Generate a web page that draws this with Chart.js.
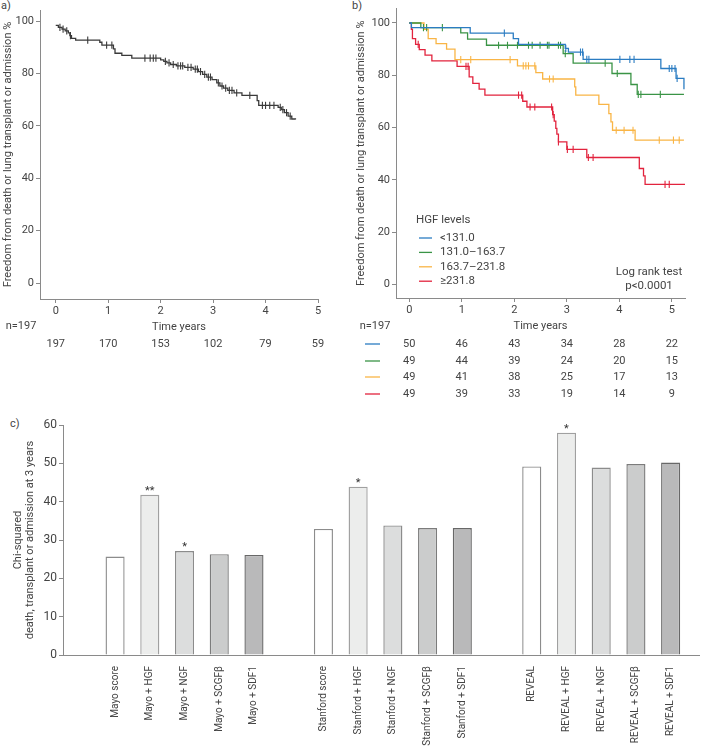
<!DOCTYPE html>
<html>
<head>
<meta charset="utf-8">
<script src="https://cdn.jsdelivr.net/npm/chart.js@4.4.1/dist/chart.umd.min.js"></script>
<style>
  html, body { margin: 0; padding: 0; background: #fff; }
  body { width: 704px; height: 747px; position: relative; overflow: hidden; font-family: Roboto, "DejaVu Sans", sans-serif; color: #444; }
  .panel { position: absolute; }
  .tag { position: absolute; font-size: 11px; color: #444; line-height: 12px; }
</style>
</head>
<body>
<div class="tag" style="left:1px;top:0px">a)</div>
<div class="tag" style="left:352px;top:0px">b)</div>
<div class="tag" style="left:10px;top:418px">c)</div>
<canvas class="panel" id="chartA" width="352" height="400" style="left:0;top:0"></canvas>
<canvas class="panel" id="chartB" width="352" height="400" style="left:352px;top:0"></canvas>
<canvas class="panel" id="chartC" width="704" height="342" style="left:0;top:405px"></canvas>
<script>
// ============================================
// DATA
// ============================================
const yTicksKM = [0, 20, 40, 60, 80, 100];
const riskTimes = [0, 1, 2, 3, 4, 5];

// panel a - whole cohort
const aTimes = [0, 0.05, 0.12, 0.18, 0.24, 0.27, 0.30, 0.38, 0.84, 0.88, 1.10, 1.13, 1.26, 1.45, 2.00, 2.06, 2.12, 2.19, 2.30, 2.46, 2.62, 2.72, 2.80, 2.88, 2.98, 3.07, 3.13, 3.20, 3.28, 3.40, 3.55, 3.84, 3.87, 4.24, 4.30, 4.36, 4.43, 4.50, 4.57];
const aSurv = [98.3, 97.6, 96.9, 96.2, 95.5, 94.4, 93.4, 92.7, 91.9, 90.8, 89.4, 87.7, 86.9, 85.8, 85.2, 84.6, 84.0, 83.4, 82.9, 82.3, 81.6, 80.7, 79.6, 78.6, 77.6, 76.4, 75.2, 74.4, 73.5, 72.6, 71.6, 69.6, 67.8, 67.0, 66.2, 65.0, 63.7, 62.6, 62.4];
const aCensor = [0.08, 0.14, 0.21, 0.28, 0.61, 0.97, 1.07, 1.70, 1.80, 1.86, 1.91, 2.09, 2.16, 2.24, 2.33, 2.38, 2.42, 2.52, 2.58, 2.66, 2.70, 2.76, 2.84, 2.91, 2.95, 3.10, 3.17, 3.24, 3.31, 3.36, 3.45, 3.70, 3.94, 4.00, 4.08, 4.16, 4.28, 4.33, 4.40, 4.47];
const aRisk = [197, 170, 153, 102, 79, 59];

// panel b - HGF quartiles
const hgfLevels = ['<131.0', '131.0\u2013163.7', '163.7\u2013231.8', '\u2265231.8'];
const hgfColors = ['#2b7cc2', '#3a9446', '#f9b546', '#e2233d'];

const q1Times = [0, 0.04, 1.16, 1.98, 2.08, 2.97, 3.03, 3.31, 4.79, 5.08, 5.23];
const q1Surv = [100, 98.2, 96.1, 94.0, 91.8, 90.3, 88.9, 86.1, 82.6, 78.8, 74.7];
const q1Censor = [1.81, 2.98, 3.26, 3.30, 3.38, 3.42, 4.01, 4.20, 4.28, 4.95, 5.00, 5.06, 5.10];

const q2Times = [0, 0.22, 0.98, 1.11, 1.47, 2.93, 3.12, 3.86, 4.22, 4.34, 5.23];
const q2Surv = [100, 98.2, 96.2, 93.8, 91.5, 88.3, 84.7, 80.7, 76.5, 72.7, 72.7];
const q2Censor = [0.27, 0.33, 0.63, 1.70, 1.87, 2.06, 2.27, 2.34, 2.49, 2.63, 2.66, 2.84, 2.88, 2.97, 3.73, 3.96, 4.36, 4.41, 4.78];

const q3Times = [0, 0.28, 0.36, 0.51, 0.71, 0.87, 2.06, 2.41, 2.54, 3.15, 3.17, 3.61, 3.80, 3.84, 3.87, 4.30, 5.23];
const q3Surv = [100, 97.6, 94.0, 92.1, 90.0, 86.0, 83.6, 81.0, 78.6, 75.6, 72.4, 68.9, 65.4, 62.2, 59.0, 55.2, 55.2];
const q3Censor = [0.98, 1.17, 1.92, 2.17, 2.22, 2.27, 2.39, 2.67, 2.74, 3.94, 4.09, 4.26, 4.76, 5.03, 5.14];

const q4Times = [0, 0.04, 0.06, 0.12, 0.19, 0.30, 0.43, 0.91, 1.14, 1.21, 1.33, 1.44, 2.16, 2.24, 2.73, 2.76, 2.79, 2.81, 2.84, 3.00, 3.38, 4.38, 4.46, 4.49, 5.25];
const q4Surv = [100, 97.6, 94.0, 91.8, 89.8, 87.7, 85.5, 83.4, 79.4, 76.9, 74.7, 72.4, 70.1, 67.9, 65.0, 62.5, 59.7, 57.5, 54.6, 51.7, 48.6, 44.4, 41.6, 38.3, 38.3];
const q4Censor = [0.17, 1.08, 1.12, 2.08, 2.14, 2.30, 2.39, 2.71, 2.74, 2.84, 3.01, 3.12, 3.41, 3.50, 4.87, 4.95];

const q1Risk = [50, 46, 43, 34, 28, 22];
const q2Risk = [49, 44, 39, 24, 20, 15];
const q3Risk = [49, 41, 38, 25, 17, 13];
const q4Risk = [49, 39, 33, 19, 14, 9];

// panel c - chi-squared of models
const models = ['', 'Mayo score', 'Mayo + HGF', 'Mayo + NGF', 'Mayo + SCGF\u03b2', 'Mayo + SDF1',
                '', 'Stanford score', 'Stanford + HGF', 'Stanford + NGF', 'Stanford + SCGF\u03b2', 'Stanford + SDF1',
                '', 'REVEAL', 'REVEAL + HGF', 'REVEAL + NGF', 'REVEAL + SCGF\u03b2', 'REVEAL + SDF1'];
const chiSquared = [null, 25.7, 41.8, 27.1, 26.3, 26.1,
                    null, 32.9, 43.9, 33.8, 33.1, 33.1,
                    null, 49.2, 58.0, 48.9, 49.8, 50.2];
const stars = ['', '', '**', '*', '', '', '', '', '*', '', '', '', '', '', '*', '', '', ''];
const chiTicks = [0, 10, 20, 30, 40, 50, 60];

// ============================================
// STYLE
// ============================================
const FONT = 'Roboto, "DejaVu Sans", sans-serif';
const TEXT = '#444';
const AXIS = '#8a8a8a';
const barFills = ['#ffffff', '#ecedec', '#dcdddd', '#cbcccc', '#b9b9ba'];
const barBorders = ['#8c8c8c', '#a0a0a0', '#8c8c8c', '#7c7c7c', '#686868'];

Chart.defaults.font.family = FONT;
Chart.defaults.color = TEXT;

// ============================================
// HELPERS
// ============================================
function survAt(times, surv, t) {
    let v = surv[0];
    for (let i = 0; i < times.length; i++) {
        if (times[i] <= t) v = surv[i];
    }
    return v;
}

function kmDatasets(times, surv, censor, color) {
    return [{
        type: 'line',
        data: times.map((t, i) => ({ x: t, y: surv[i] })),
        borderColor: color,
        borderWidth: 1.3,
        stepped: 'before',
        pointRadius: 0,
        fill: false
    }, {
        type: 'scatter',
        data: censor.map(t => ({ x: t, y: survAt(times, surv, t) })),
        borderColor: color,
        pointStyle: 'line',
        pointRotation: 90,
        pointRadius: 3.6,
        pointBorderWidth: 1.1,
        showLine: false
    }];
}

// risk table under the KM plots, aligned to the x scale
const riskPlugin = {
    id: 'riskTable',
    afterDraw(chart, args, o) {
        if (!o.rows) return;
        const ctx = chart.ctx;
        const xs = chart.scales.x;
        ctx.save();
        ctx.font = `11px ${FONT}`;
        ctx.fillStyle = TEXT;
        ctx.textBaseline = 'middle';
        ctx.textAlign = 'center';
        ctx.fillText(o.nLabel, o.nX, o.nY);
        o.rows.forEach((row, r) => {
            const y = o.rowY[r];
            if (o.colors) {
                ctx.strokeStyle = o.colors[r];
                ctx.lineWidth = 1.3;
                ctx.beginPath();
                ctx.moveTo(o.markX[0], y);
                ctx.lineTo(o.markX[1], y);
                ctx.stroke();
            }
            row.forEach((n, i) => {
                ctx.fillText(String(n), xs.getPixelForValue(o.times[i]), y);
            });
        });
        ctx.restore();
    }
};

// legend + log rank text for panel b
const hgfLegendPlugin = {
    id: 'hgfLegend',
    afterDraw(chart, args, o) {
        if (!o.labels) return;
        const ctx = chart.ctx;
        ctx.save();
        ctx.font = `11.5px ${FONT}`;
        ctx.fillStyle = TEXT;
        ctx.textBaseline = 'middle';
        ctx.textAlign = 'left';
        ctx.fillText(o.title, o.x, o.titleY);
        o.labels.forEach((lab, i) => {
            const y = o.y0 + i * o.step;
            ctx.strokeStyle = o.colors[i];
            ctx.lineWidth = 1.3;
            ctx.beginPath();
            ctx.moveTo(o.x + 3, y);
            ctx.lineTo(o.x + 16, y);
            ctx.stroke();
            ctx.fillText(lab, o.x + 24, y);
        });
        ctx.textAlign = 'center';
        ctx.fillText('Log rank test', o.noteX, o.noteY);
        ctx.fillText('p<0.0001', o.noteX, o.noteY + 14);
        ctx.restore();
    }
};

// significance stars above bars, and the x axis line running on to the edge
const starPlugin = {
    id: 'stars',
    afterDatasetsDraw(chart, args, o) {
        if (!o.marks) return;
        const ctx = chart.ctx;
        const meta = chart.getDatasetMeta(0);
        const area = chart.chartArea;
        ctx.save();
        ctx.strokeStyle = AXIS;
        ctx.lineWidth = 1;
        ctx.beginPath();
        ctx.moveTo(area.right, area.bottom + 0.5);
        ctx.lineTo(area.right + o.axisRun, area.bottom + 0.5);
        ctx.stroke();
        ctx.font = `11px ${FONT}`;
        ctx.fillStyle = '#333';
        ctx.textAlign = 'center';
        ctx.textBaseline = 'alphabetic';
        meta.data.forEach((bar, i) => {
            if (o.marks[i]) ctx.fillText(o.marks[i], bar.x, bar.y - 1);
        });
        ctx.restore();
    }
};

function kmOptions(cfg) {
    return {
        responsive: false,
        animation: false,
        events: [],
        layout: { padding: cfg.padding },
        plugins: {
            legend: { display: false },
            tooltip: { enabled: false },
            riskTable: cfg.risk,
            hgfLegend: cfg.legend || {}
        },
        scales: {
            x: {
                type: 'linear',
                min: cfg.xMin,
                max: cfg.xMax,
                afterBuildTicks: ax => { ax.ticks = riskTimes.map(v => ({ value: v })); },
                afterFit: ax => { ax.height = 36; },
                grid: { drawOnChartArea: false, tickLength: 4, color: AXIS },
                border: { color: AXIS },
                ticks: { font: { size: 11 }, color: TEXT, padding: 2, maxRotation: 0 },
                title: { display: true, text: 'Time years', font: { size: 11 }, color: TEXT, padding: { top: 0, bottom: 1 } }
            },
            y: {
                min: cfg.yMin,
                max: cfg.yMax,
                afterBuildTicks: ax => { ax.ticks = yTicksKM.map(v => ({ value: v })); },
                afterFit: ax => { ax.width = cfg.yWidth; },
                grid: { drawOnChartArea: false, tickLength: 4, color: AXIS },
                border: { color: AXIS },
                ticks: { font: { size: 11 }, color: TEXT, padding: 2 },
                title: {
                    display: true,
                    text: 'Freedom from death or lung transplant or admission %',
                    font: { size: 11 },
                    color: TEXT,
                    padding: { top: cfg.titlePad, bottom: 0 }
                }
            }
        }
    };
}

// ============================================
// PANEL A
// ============================================
new Chart(document.getElementById('chartA'), {
    type: 'line',
    data: { datasets: kmDatasets(aTimes, aSurv, aCensor, '#3a3a3a') },
    options: kmOptions({
        padding: { top: 10, right: 34, bottom: 65, left: 0 },
        xMin: -0.3, xMax: 5,
        yMin: -6.1, yMax: 104.2,
        yWidth: 40, titlePad: 1.5,
        risk: { nLabel: 'n=197', nX: 21, nY: 326, rows: [aRisk], rowY: [344], times: riskTimes }
    }),
    plugins: [riskPlugin]
});

// ============================================
// PANEL B
// ============================================
new Chart(document.getElementById('chartB'), {
    type: 'line',
    data: {
        datasets: [
            ...kmDatasets(q1Times, q1Surv, q1Censor, hgfColors[0]),
            ...kmDatasets(q2Times, q2Surv, q2Censor, hgfColors[1]),
            ...kmDatasets(q3Times, q3Surv, q3Censor, hgfColors[2]),
            ...kmDatasets(q4Times, q4Surv, q4Censor, hgfColors[3])
        ]
    },
    options: kmOptions({
        padding: { top: 8, right: 19, bottom: 66, left: 0 },
        xMin: -0.253, xMax: 5.25,
        yMin: -5.1, yMax: 105.5,
        yWidth: 44, titlePad: 2.5,
        risk: {
            nLabel: 'n=197', nX: 23, nY: 326,
            rows: [q1Risk, q2Risk, q3Risk, q4Risk],
            rowY: [344, 361, 377, 394],
            times: riskTimes,
            colors: hgfColors,
            markX: [13, 28]
        },
        legend: {
            title: 'HGF levels', labels: hgfLevels, colors: hgfColors,
            x: 64, titleY: 220, y0: 238, step: 14.4,
            noteX: 297, noteY: 272
        }
    }),
    plugins: [riskPlugin, hgfLegendPlugin]
});

// ============================================
// PANEL C
// ============================================
const fills = models.map((m, i) => barFills[(i % 6) - 1] || '#fff');
const borders = models.map((m, i) => barBorders[(i % 6) - 1] || AXIS);

new Chart(document.getElementById('chartC'), {
    type: 'bar',
    data: {
        labels: models,
        datasets: [{
            data: chiSquared,
            backgroundColor: fills,
            borderColor: borders,
            borderWidth: 1.4,
            barPercentage: 0.55,
            categoryPercentage: 1
        }]
    },
    options: {
        responsive: false,
        animation: false,
        events: [],
        layout: { padding: { top: 20, right: 16, bottom: 0, left: 0 } },
        plugins: {
            legend: { display: false },
            tooltip: { enabled: false },
            stars: { marks: stars, axisRun: 12 }
        },
        scales: {
            x: {
                afterFit: ax => { ax.height = 92; },
                grid: { display: false },
                border: { color: AXIS },
                ticks: { autoSkip: false, maxRotation: 90, minRotation: 90, font: { size: 10 }, color: TEXT, padding: 3 }
            },
            y: {
                min: 0,
                max: 60,
                afterBuildTicks: ax => { ax.ticks = chiTicks.map(v => ({ value: v })); },
                afterFit: ax => { ax.width = 63; },
                grid: { drawOnChartArea: false, tickLength: 4, color: AXIS },
                border: { color: AXIS },
                ticks: { font: { size: 12 }, color: TEXT, padding: 2 },
                title: {
                    display: true,
                    text: ['Chi-squared', 'death, transplant or admission at 3 years'],
                    font: { size: 11, lineHeight: 1.1 },
                    color: TEXT,
                    padding: { top: 12.5, bottom: 0 }
                }
            }
        }
    },
    plugins: [starPlugin]
});
</script>
</body>
</html>
